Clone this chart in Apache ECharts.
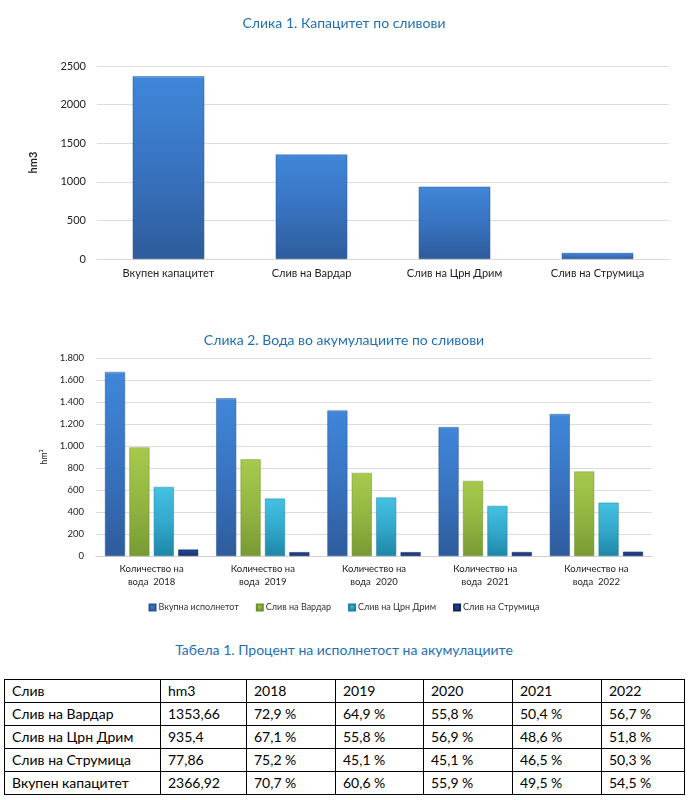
<!DOCTYPE html>
<html><head><meta charset="utf-8">
<script src="https://cdn.jsdelivr.net/npm/echarts@6/dist/echarts.min.js"></script>
<style>
html,body{margin:0;padding:0;background:#fff;width:688px;height:800px;overflow:hidden;font-family:Lato,"Open Sans",sans-serif;}
#chart{position:absolute;left:0;top:0;width:688px;height:630px;}
#ttitle{position:absolute;left:0;top:641px;width:688px;text-align:center;color:#1f6fb5;font-size:14px;font-family:Lato,sans-serif;}
#tbl{position:absolute;left:4px;top:679px;border-collapse:collapse;table-layout:fixed;width:680px;font-family:Lato,sans-serif;font-size:14px;color:#000;}
#tbl td{border:1px solid #000;height:22px;padding:0 0 0 7px;line-height:22px;white-space:nowrap;overflow:hidden;}
</style></head>
<body>
<div id="chart"></div>
<div id="ttitle"></div>
<table id="tbl"><colgroup id="cols"></colgroup></table>
<script>
// Chart 1 data
const cap_categories = ['Вкупен капацитет','Слив на Вардар','Слив на Црн Дрим','Слив на Струмица'];
const cap_values = [2366.92, 1353.66, 935.4, 77.86];
const cap_ticks = [0, 500, 1000, 1500, 2000, 2500];

// Chart 2 data
const water_categories = ['Количество на\nвода  2018','Количество на\nвода  2019','Количество на\nвода  2020','Количество на\nвода  2021','Количество на\nвода  2022'];
const series_names = ['Вкупна исполнетот','Слив на Вардар','Слив на Црн Дрим','Слив на Струмица'];
const total_vals = [1673, 1434, 1323, 1172, 1290];
const vardar_vals = [987, 879, 755, 682, 768];
const drim_vals = [628, 522, 532, 455, 485];
const strumica_vals = [59, 35, 35, 36, 39];

// Table data
const table_header = ['Слив','hm3','2018','2019','2020','2021','2022'];
const table_rows = [
  ['Слив на Вардар','1353,66','72,9 %','64,9 %','55,8 %','50,4 %','56,7 %'],
  ['Слив на Црн Дрим','935,4','67,1 %','55,8 %','56,9 %','48,6 %','51,8 %'],
  ['Слив на Струмица','77,86','75,2 %','45,1 %','45,1 %','46,5 %','50,3 %'],
  ['Вкупен капацитет','2366,92','70,7 %','60,6 %','55,9 %','49,5 %','54,5 %']
];
const col_widths = [156, 86, 89, 88, 89, 89, 83];

function grad(top, mid, bot, cap){
  return new echarts.graphic.LinearGradient(0,0,0,1,[
    {offset:0,color:cap},{offset:0.012,color:top},{offset:0.5,color:mid},{offset:1,color:bot}]);
}
const blue = grad('#3f86d9','#3873c0','#2e5c9c','#7db4ef');
const green = grad('#a6c94c','#93b642','#789a33','#cfe68a');
const cyan = grad('#42c0e2','#33a9cc','#1e87a8','#8fe0f5');
const navy = grad('#24479a','#1f3d85','#172f6a','#4a6fc0');

const fnt = 'Lato, "Open Sans", sans-serif';
const chart = echarts.init(document.getElementById('chart'), null, {renderer:'canvas'});
chart.setOption({
  animation:false,
  textStyle:{fontFamily:fnt},
  title:[
    {text:'Слика 1. Капацитет по сливови', left:'center', top:11, textStyle:{color:'#1f6fb5',fontSize:14,fontWeight:'normal',fontFamily:fnt}},
    {text:'Слика 2. Вода во акумулациите по сливови', left:'center', top:328, textStyle:{color:'#1f6fb5',fontSize:14,fontWeight:'normal',fontFamily:fnt}}
  ],
  legend:{
    top:598, left:'center', itemWidth:6, itemHeight:6, itemGap:17, icon:'rect',
    data:series_names, textStyle:{fontSize:9,color:'#333',fontFamily:fnt,padding:[0,0,0,-2]}
  },
  grid:[
    {left:97, right:19, top:66, height:193},
    {left:96, right:36, top:358, height:198}
  ],
  xAxis:[
    {type:'category', gridIndex:0, data:cap_categories, axisTick:{show:false},
     axisLine:{lineStyle:{color:'#d9d9d9'}}, axisLabel:{color:'#222',fontSize:11,margin:9}},
    {type:'category', gridIndex:1, data:water_categories, axisTick:{show:false},
     axisLine:{lineStyle:{color:'#d0d0d0'}}, axisLabel:{color:'#222',fontSize:9.5,margin:6,lineHeight:13}}
  ],
  yAxis:[
    {type:'value', gridIndex:0, min:cap_ticks[0], max:cap_ticks[cap_ticks.length-1], interval:500,
     name:'hm3', nameLocation:'middle', nameGap:58, nameRotate:90,
     nameTextStyle:{fontWeight:'bold',fontSize:11,color:'#222'},
     axisLine:{show:false}, axisTick:{show:false},
     axisLabel:{color:'#222',fontSize:11,margin:11,formatter:v=>String(v)},
     splitLine:{lineStyle:{color:'#dcdcdc'}}},
    {type:'value', gridIndex:1, min:0, max:1800, interval:200,
     name:'hm³', nameLocation:'middle', nameGap:40, nameRotate:90,
     nameTextStyle:{fontSize:9,color:'#222'},
     axisLine:{show:false}, axisTick:{show:false},
     axisLabel:{color:'#222',fontSize:9.5,margin:12,formatter:v=>v>=1000?Math.floor(v/1000)+'.'+String(v%1000).padStart(3,'0'):String(v)},
     splitLine:{lineStyle:{color:'#dcdcdc'}}}
  ],
  series:[
    {type:'bar', xAxisIndex:0, yAxisIndex:0, data:cap_values, barWidth:'50%',
     itemStyle:{color:blue, borderColor:'#2a5590', borderWidth:0.5}},
    {type:'bar', name:series_names[0], xAxisIndex:1, yAxisIndex:1, data:total_vals, barWidth:20, barGap:'22%',
     itemStyle:{color:blue, borderColor:'#2a5590', borderWidth:0.5}},
    {type:'bar', name:series_names[1], xAxisIndex:1, yAxisIndex:1, data:vardar_vals, barWidth:20, barGap:'22%',
     itemStyle:{color:green, borderColor:'#6f8e2e', borderWidth:0.5}},
    {type:'bar', name:series_names[2], xAxisIndex:1, yAxisIndex:1, data:drim_vals, barWidth:20, barGap:'22%',
     itemStyle:{color:cyan, borderColor:'#1f7f9e', borderWidth:0.5}},
    {type:'bar', name:series_names[3], xAxisIndex:1, yAxisIndex:1, data:strumica_vals, barWidth:20, barGap:'22%',
     itemStyle:{color:navy, borderColor:'#14275a', borderWidth:0.5}}
  ]
});

document.getElementById('ttitle').textContent = 'Табела 1. Процент на исполнетост на акумулациите';
const tbl = document.getElementById('tbl');
const cols = document.getElementById('cols');
col_widths.forEach(w=>{ const c=document.createElement('col'); c.style.width=w+'px'; cols.appendChild(c); });
[table_header].concat(table_rows).forEach(r=>{
  const tr = document.createElement('tr');
  r.forEach(c=>{
    const td = document.createElement('td');
    td.textContent = c;
    tr.appendChild(td);
  });
  tbl.appendChild(tr);
});
</script>
</body></html>
